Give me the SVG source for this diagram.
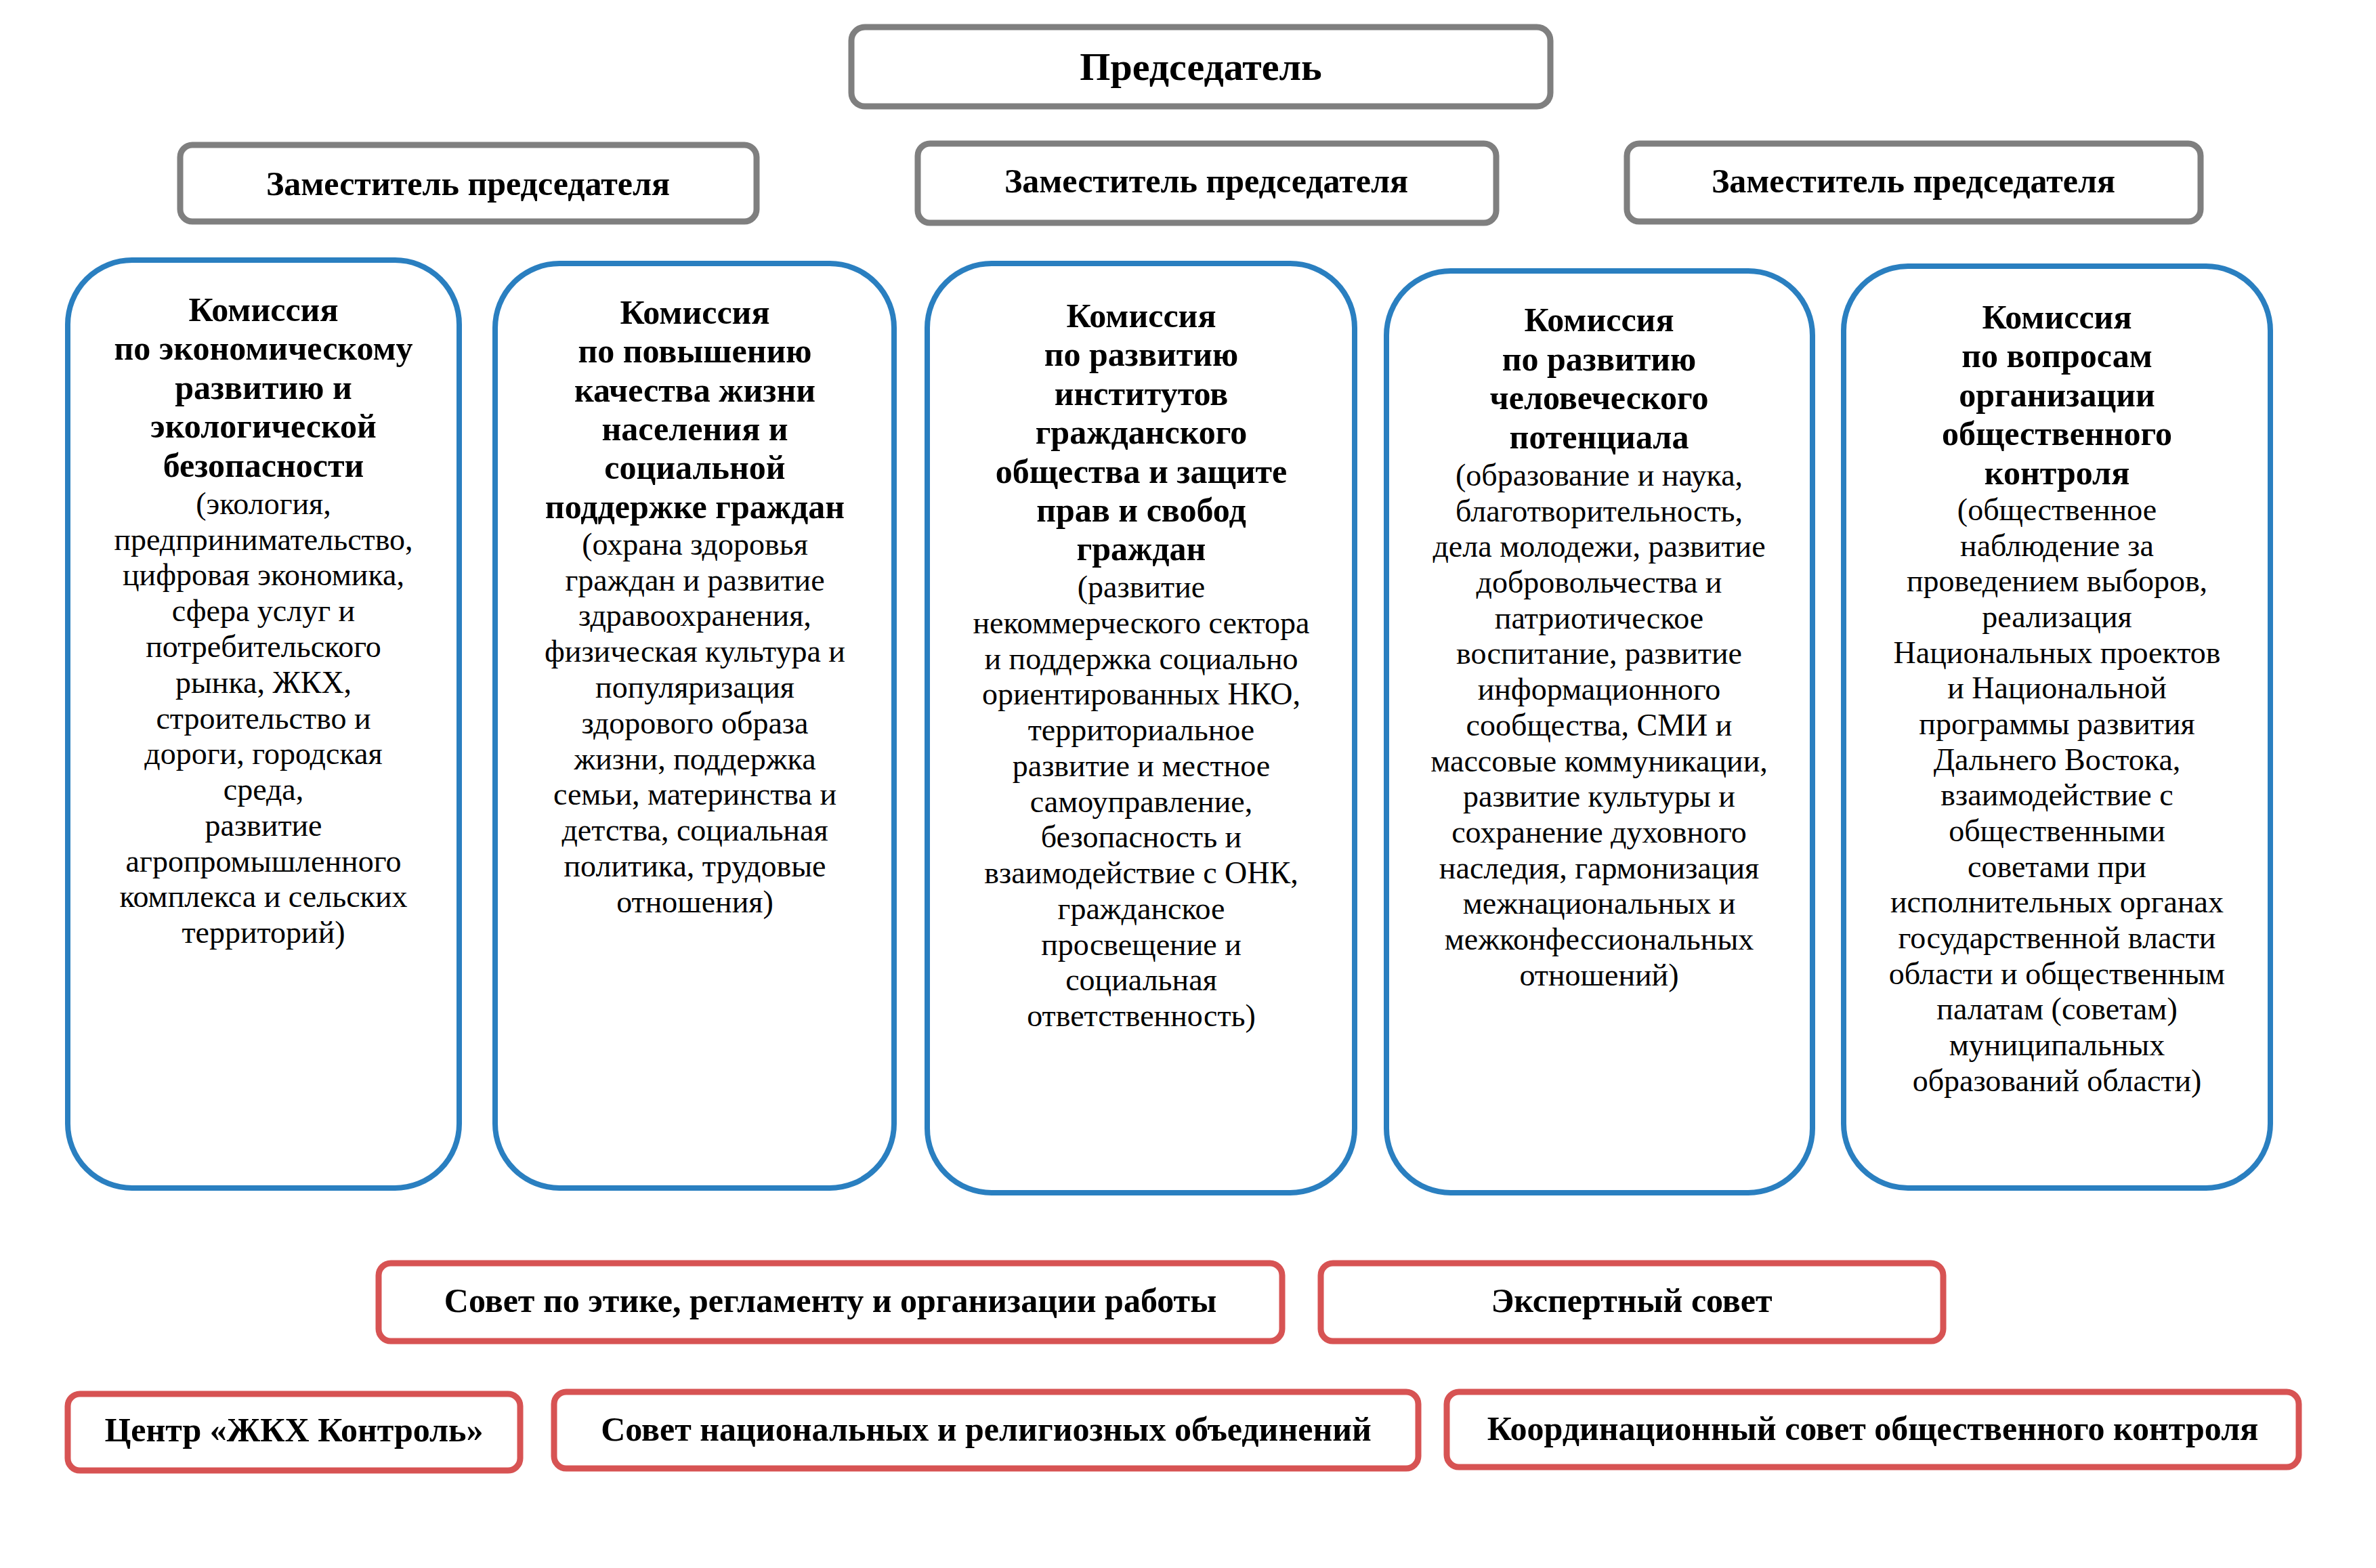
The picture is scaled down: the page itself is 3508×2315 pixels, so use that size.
<svg xmlns="http://www.w3.org/2000/svg" width="3508" height="2315" viewBox="0 0 3508 2315">
<style>
text{font-family:"Liberation Serif","Times New Roman",serif;fill:#000;text-anchor:middle}
.g{fill:#fff;stroke:#7f7f7f;stroke-width:9}
.b{fill:#fff;stroke:#2a7fc0;stroke-width:8}
.r{fill:#fff;stroke:#d75353;stroke-width:9}
.h{font-weight:bold;font-size:50px}
.t{font-size:46px}
.top{font-weight:bold;font-size:50px}
</style>
<rect width="3508" height="2315" fill="#fff"/>
<g id="connectors"></g>

<g id="chair"><rect class="g" x="1257" y="40" width="1032" height="117" rx="20"/><text class="top" x="1773" y="118" style="font-size:58px">Председатель</text></g>
<g id="deputy1"><rect class="g" x="266" y="214" width="851" height="113" rx="18"/><text class="top" x="691" y="288">Заместитель председателя</text></g>
<g id="deputy2"><rect class="g" x="1355" y="212" width="854" height="117" rx="18"/><text class="top" x="1781" y="284">Заместитель председателя</text></g>
<g id="deputy3"><rect class="g" x="2402" y="212" width="847" height="115" rx="18"/><text class="top" x="2825" y="284">Заместитель председателя</text></g>

<g id="commission1"><rect class="b" x="100" y="384" width="578" height="1370" rx="95"/>
<text class="h" x="389" y="474">Комиссия</text>
<text class="h" x="389" y="531">по экономическому</text>
<text class="h" x="389" y="589">развитию и</text>
<text class="h" x="389" y="646">экологической</text>
<text class="h" x="389" y="704">безопасности</text>
<text class="t" x="389" y="759">(экология,</text>
<text class="t" x="389" y="812">предпринимательство,</text>
<text class="t" x="389" y="864">цифровая экономика,</text>
<text class="t" x="389" y="917">сфера услуг и</text>
<text class="t" x="389" y="970">потребительского</text>
<text class="t" x="389" y="1023">рынка, ЖКХ,</text>
<text class="t" x="389" y="1076">строительство и</text>
<text class="t" x="389" y="1128">дороги, городская</text>
<text class="t" x="389" y="1181">среда,</text>
<text class="t" x="389" y="1234">развитие</text>
<text class="t" x="389" y="1287">агропромышленного</text>
<text class="t" x="389" y="1339">комплекса и сельских</text>
<text class="t" x="389" y="1392">территорий)</text>
</g>

<g id="commission2"><rect class="b" x="731" y="389" width="589" height="1365" rx="95"/>
<text class="h" x="1026" y="478">Комиссия</text>
<text class="h" x="1026" y="535">по повышению</text>
<text class="h" x="1026" y="593">качества жизни</text>
<text class="h" x="1026" y="650">населения и</text>
<text class="h" x="1026" y="707">социальной</text>
<text class="h" x="1026" y="765">поддержке граждан</text>
<text class="t" x="1026" y="819">(охрана здоровья</text>
<text class="t" x="1026" y="872">граждан и развитие</text>
<text class="t" x="1026" y="924">здравоохранения,</text>
<text class="t" x="1026" y="977">физическая культура и</text>
<text class="t" x="1026" y="1030">популяризация</text>
<text class="t" x="1026" y="1083">здорового образа</text>
<text class="t" x="1026" y="1136">жизни, поддержка</text>
<text class="t" x="1026" y="1188">семьи, материнства и</text>
<text class="t" x="1026" y="1241">детства, социальная</text>
<text class="t" x="1026" y="1294">политика, трудовые</text>
<text class="t" x="1026" y="1347">отношения)</text>
</g>

<g id="commission3"><rect class="b" x="1369" y="389" width="631" height="1372" rx="95"/>
<text class="h" x="1685" y="483">Комиссия</text>
<text class="h" x="1685" y="540">по развитию</text>
<text class="h" x="1685" y="598">институтов</text>
<text class="h" x="1685" y="655">гражданского</text>
<text class="h" x="1685" y="713">общества и защите</text>
<text class="h" x="1685" y="770">прав и свобод</text>
<text class="h" x="1685" y="827">граждан</text>
<text class="t" x="1685" y="882">(развитие</text>
<text class="t" x="1685" y="935">некоммерческого сектора</text>
<text class="t" x="1685" y="988">и поддержка социально</text>
<text class="t" x="1685" y="1040">ориентированных НКО,</text>
<text class="t" x="1685" y="1093">территориальное</text>
<text class="t" x="1685" y="1146">развитие и местное</text>
<text class="t" x="1685" y="1199">самоуправление,</text>
<text class="t" x="1685" y="1251">безопасность и</text>
<text class="t" x="1685" y="1304">взаимодействие с ОНК,</text>
<text class="t" x="1685" y="1357">гражданское</text>
<text class="t" x="1685" y="1410">просвещение и</text>
<text class="t" x="1685" y="1462">социальная</text>
<text class="t" x="1685" y="1515">ответственность)</text>
</g>

<g id="commission4"><rect class="b" x="2047" y="400" width="629" height="1361" rx="95"/>
<text class="h" x="2361" y="489">Комиссия</text>
<text class="h" x="2361" y="547">по развитию</text>
<text class="h" x="2361" y="604">человеческого</text>
<text class="h" x="2361" y="662">потенциала</text>
<text class="t" x="2361" y="717">(образование и наука,</text>
<text class="t" x="2361" y="770">благотворительность,</text>
<text class="t" x="2361" y="822">дела молодежи, развитие</text>
<text class="t" x="2361" y="875">добровольчества и</text>
<text class="t" x="2361" y="928">патриотическое</text>
<text class="t" x="2361" y="980">воспитание, развитие</text>
<text class="t" x="2361" y="1033">информационного</text>
<text class="t" x="2361" y="1086">сообщества, СМИ и</text>
<text class="t" x="2361" y="1139">массовые коммуникации,</text>
<text class="t" x="2361" y="1191">развитие культуры и</text>
<text class="t" x="2361" y="1244">сохранение духовного</text>
<text class="t" x="2361" y="1297">наследия, гармонизация</text>
<text class="t" x="2361" y="1349">межнациональных и</text>
<text class="t" x="2361" y="1402">межконфессиональных</text>
<text class="t" x="2361" y="1455">отношений)</text>
</g>

<g id="commission5"><rect class="b" x="2722" y="393" width="630" height="1361" rx="95"/>
<text class="h" x="3037" y="485">Комиссия</text>
<text class="h" x="3037" y="542">по вопросам</text>
<text class="h" x="3037" y="600">организации</text>
<text class="h" x="3037" y="657">общественного</text>
<text class="h" x="3037" y="715">контроля</text>
<text class="t" x="3037" y="768">(общественное</text>
<text class="t" x="3037" y="821">наблюдение за</text>
<text class="t" x="3037" y="873">проведением выборов,</text>
<text class="t" x="3037" y="926">реализация</text>
<text class="t" x="3037" y="979">Национальных проектов</text>
<text class="t" x="3037" y="1031">и Национальной</text>
<text class="t" x="3037" y="1084">программы развития</text>
<text class="t" x="3037" y="1137">Дальнего Востока,</text>
<text class="t" x="3037" y="1189">взаимодействие с</text>
<text class="t" x="3037" y="1242">общественными</text>
<text class="t" x="3037" y="1295">советами при</text>
<text class="t" x="3037" y="1347">исполнительных органах</text>
<text class="t" x="3037" y="1400">государственной власти</text>
<text class="t" x="3037" y="1453">области и общественным</text>
<text class="t" x="3037" y="1505">палатам (советам)</text>
<text class="t" x="3037" y="1558">муниципальных</text>
<text class="t" x="3037" y="1611">образований области)</text>
</g>

<g id="council-ethics"><rect class="r" x="559" y="1865" width="1334" height="115" rx="18"/><text class="top" x="1226" y="1937">Совет по этике, регламенту и организации работы</text></g>
<g id="council-expert"><rect class="r" x="1950" y="1865" width="919" height="115" rx="18"/><text class="top" x="2409" y="1937">Экспертный совет</text></g>
<g id="center-zkh"><rect class="r" x="100" y="2058" width="668" height="113" rx="18"/><text class="top" x="434" y="2128">Центр «ЖКХ Контроль»</text></g>
<g id="council-national"><rect class="r" x="818" y="2055" width="1276" height="113" rx="18"/><text class="top" x="1456" y="2127">Совет национальных и религиозных объединений</text></g>
<g id="council-coord"><rect class="r" x="2136" y="2055" width="1258" height="111" rx="18"/><text class="top" x="2765" y="2126">Координационный совет общественного контроля</text></g>
</svg>
